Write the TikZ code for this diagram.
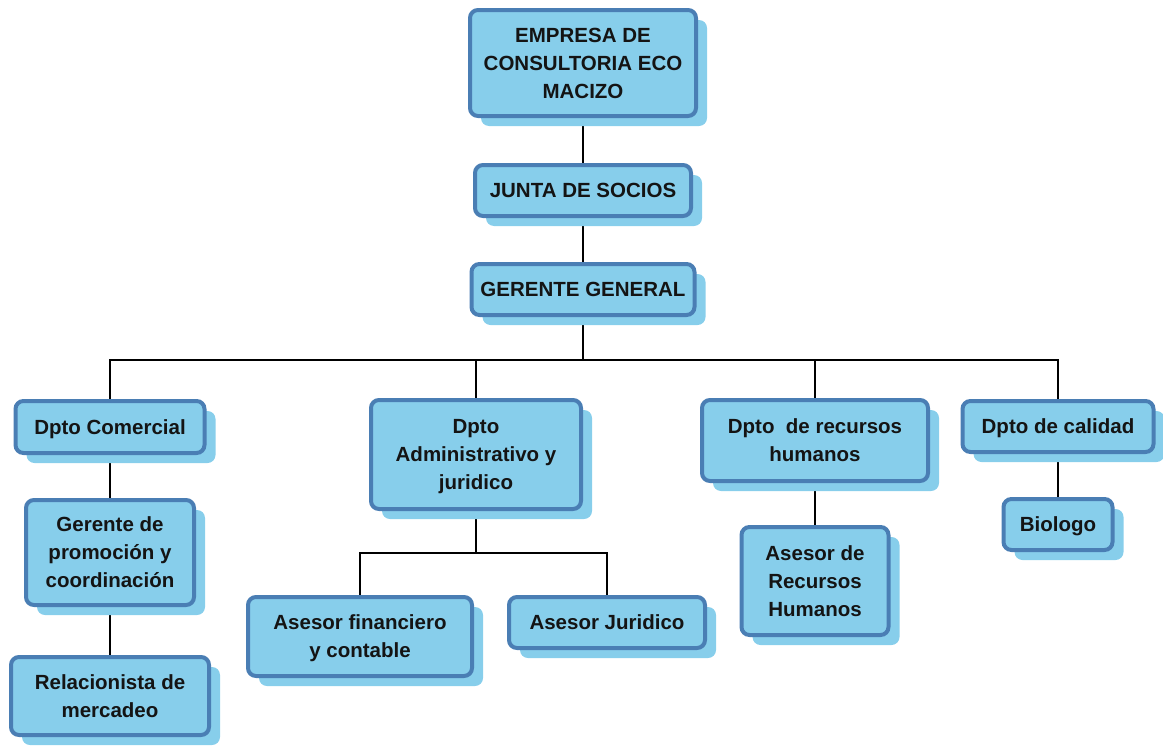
\documentclass[tikz,border=0pt]{standalone}
\usepackage{fontspec}
\setmainfont{Liberation Sans}
\usetikzlibrary{shadows,backgrounds}
\definecolor{boxfill}{RGB}{135,206,235}
\definecolor{boxedge}{RGB}{74,126,180}
\definecolor{shadefill}{RGB}{135,206,235}
\definecolor{inktext}{RGB}{20,20,20}
\tikzset{
  orgbox/.style={draw=boxedge, line width=4pt, fill=boxfill, rounded corners=8pt,
    align=center, inner sep=0pt, text=inktext, text depth=0pt,
    font=\bfseries\fontsize{20.5}{28}\selectfont,
    general shadow={fill=shadefill, shadow xshift=11pt, shadow yshift=-10pt}},
  link/.style={draw=black, line width=1.5pt}
}
\begin{document}
\begin{tikzpicture}[x=1pt,y=-1pt]
\useasboundingbox (0,0) rectangle (1163,747);
% top of the hierarchy
\node[orgbox, minimum width=226pt, minimum height=106pt] (emp) at (583,63) {EMPRESA DE\\CONSULTORIA ECO\\MACIZO};
\node[orgbox, minimum width=216pt, minimum height=51pt] (junta) at (583,190.5) {JUNTA DE SOCIOS};
\node[orgbox, minimum width=223pt, minimum height=51pt] (gg) at (583,289.5) {GERENTE GENERAL};
% departments
\node[orgbox, minimum width=189pt, minimum height=52pt] (com) at (110,427) {Dpto Comercial};
\node[orgbox, minimum width=210pt, minimum height=109pt] (adm) at (476,454.5) {Dpto\\Administrativo y\\juridico};
\node[orgbox, minimum width=226pt, minimum height=81pt] (rh) at (815,440.5) {Dpto\ \ de recursos\\humanos};
\node[orgbox, minimum width=191pt, minimum height=51pt] (cal) at (1058,426.5) {Dpto de calidad};
% staff under each department
\node[orgbox, minimum width=168pt, minimum height=105pt] (prom) at (110,552.5) {Gerente de\\promoción y\\coordinación};
\node[orgbox, minimum width=198pt, minimum height=78pt] (rel) at (110,696) {Relacionista de\\mercadeo};
\node[orgbox, minimum width=224pt, minimum height=79pt] (fin) at (360,636.5) {Asesor financiero\\y contable};
\node[orgbox, minimum width=196pt, minimum height=51pt] (jur) at (607,622.5) {Asesor Juridico};
\node[orgbox, minimum width=147pt, minimum height=108pt] (arh) at (815,581) {Asesor de\\Recursos\\Humanos};
\node[orgbox, minimum width=109pt, minimum height=51pt] (bio) at (1058,524.5) {Biologo};
\coordinate (bus) at (583,360);
\coordinate (admbus) at (476,553);
\begin{scope}[on background layer]
\draw[link] (emp.south) -- (junta.north);
\draw[link] (junta.south) -- (gg.north);
\draw[link] (gg.south) -- (bus);
\draw[link] (bus) -| (com.north);
\draw[link] (bus) -| (adm.north);
\draw[link] (bus) -| (rh.north);
\draw[link] (bus) -| (cal.north);
\draw[link] (com.south) -- (prom.north);
\draw[link] (prom.south) -- (rel.north);
\draw[link] (adm.south) -- (admbus);
\draw[link] (admbus) -| (fin.north);
\draw[link] (admbus) -| (jur.north);
\draw[link] (rh.south) -- (arh.north);
\draw[link] (cal.south) -- (bio.north);
\end{scope}
\end{tikzpicture}
\end{document}
